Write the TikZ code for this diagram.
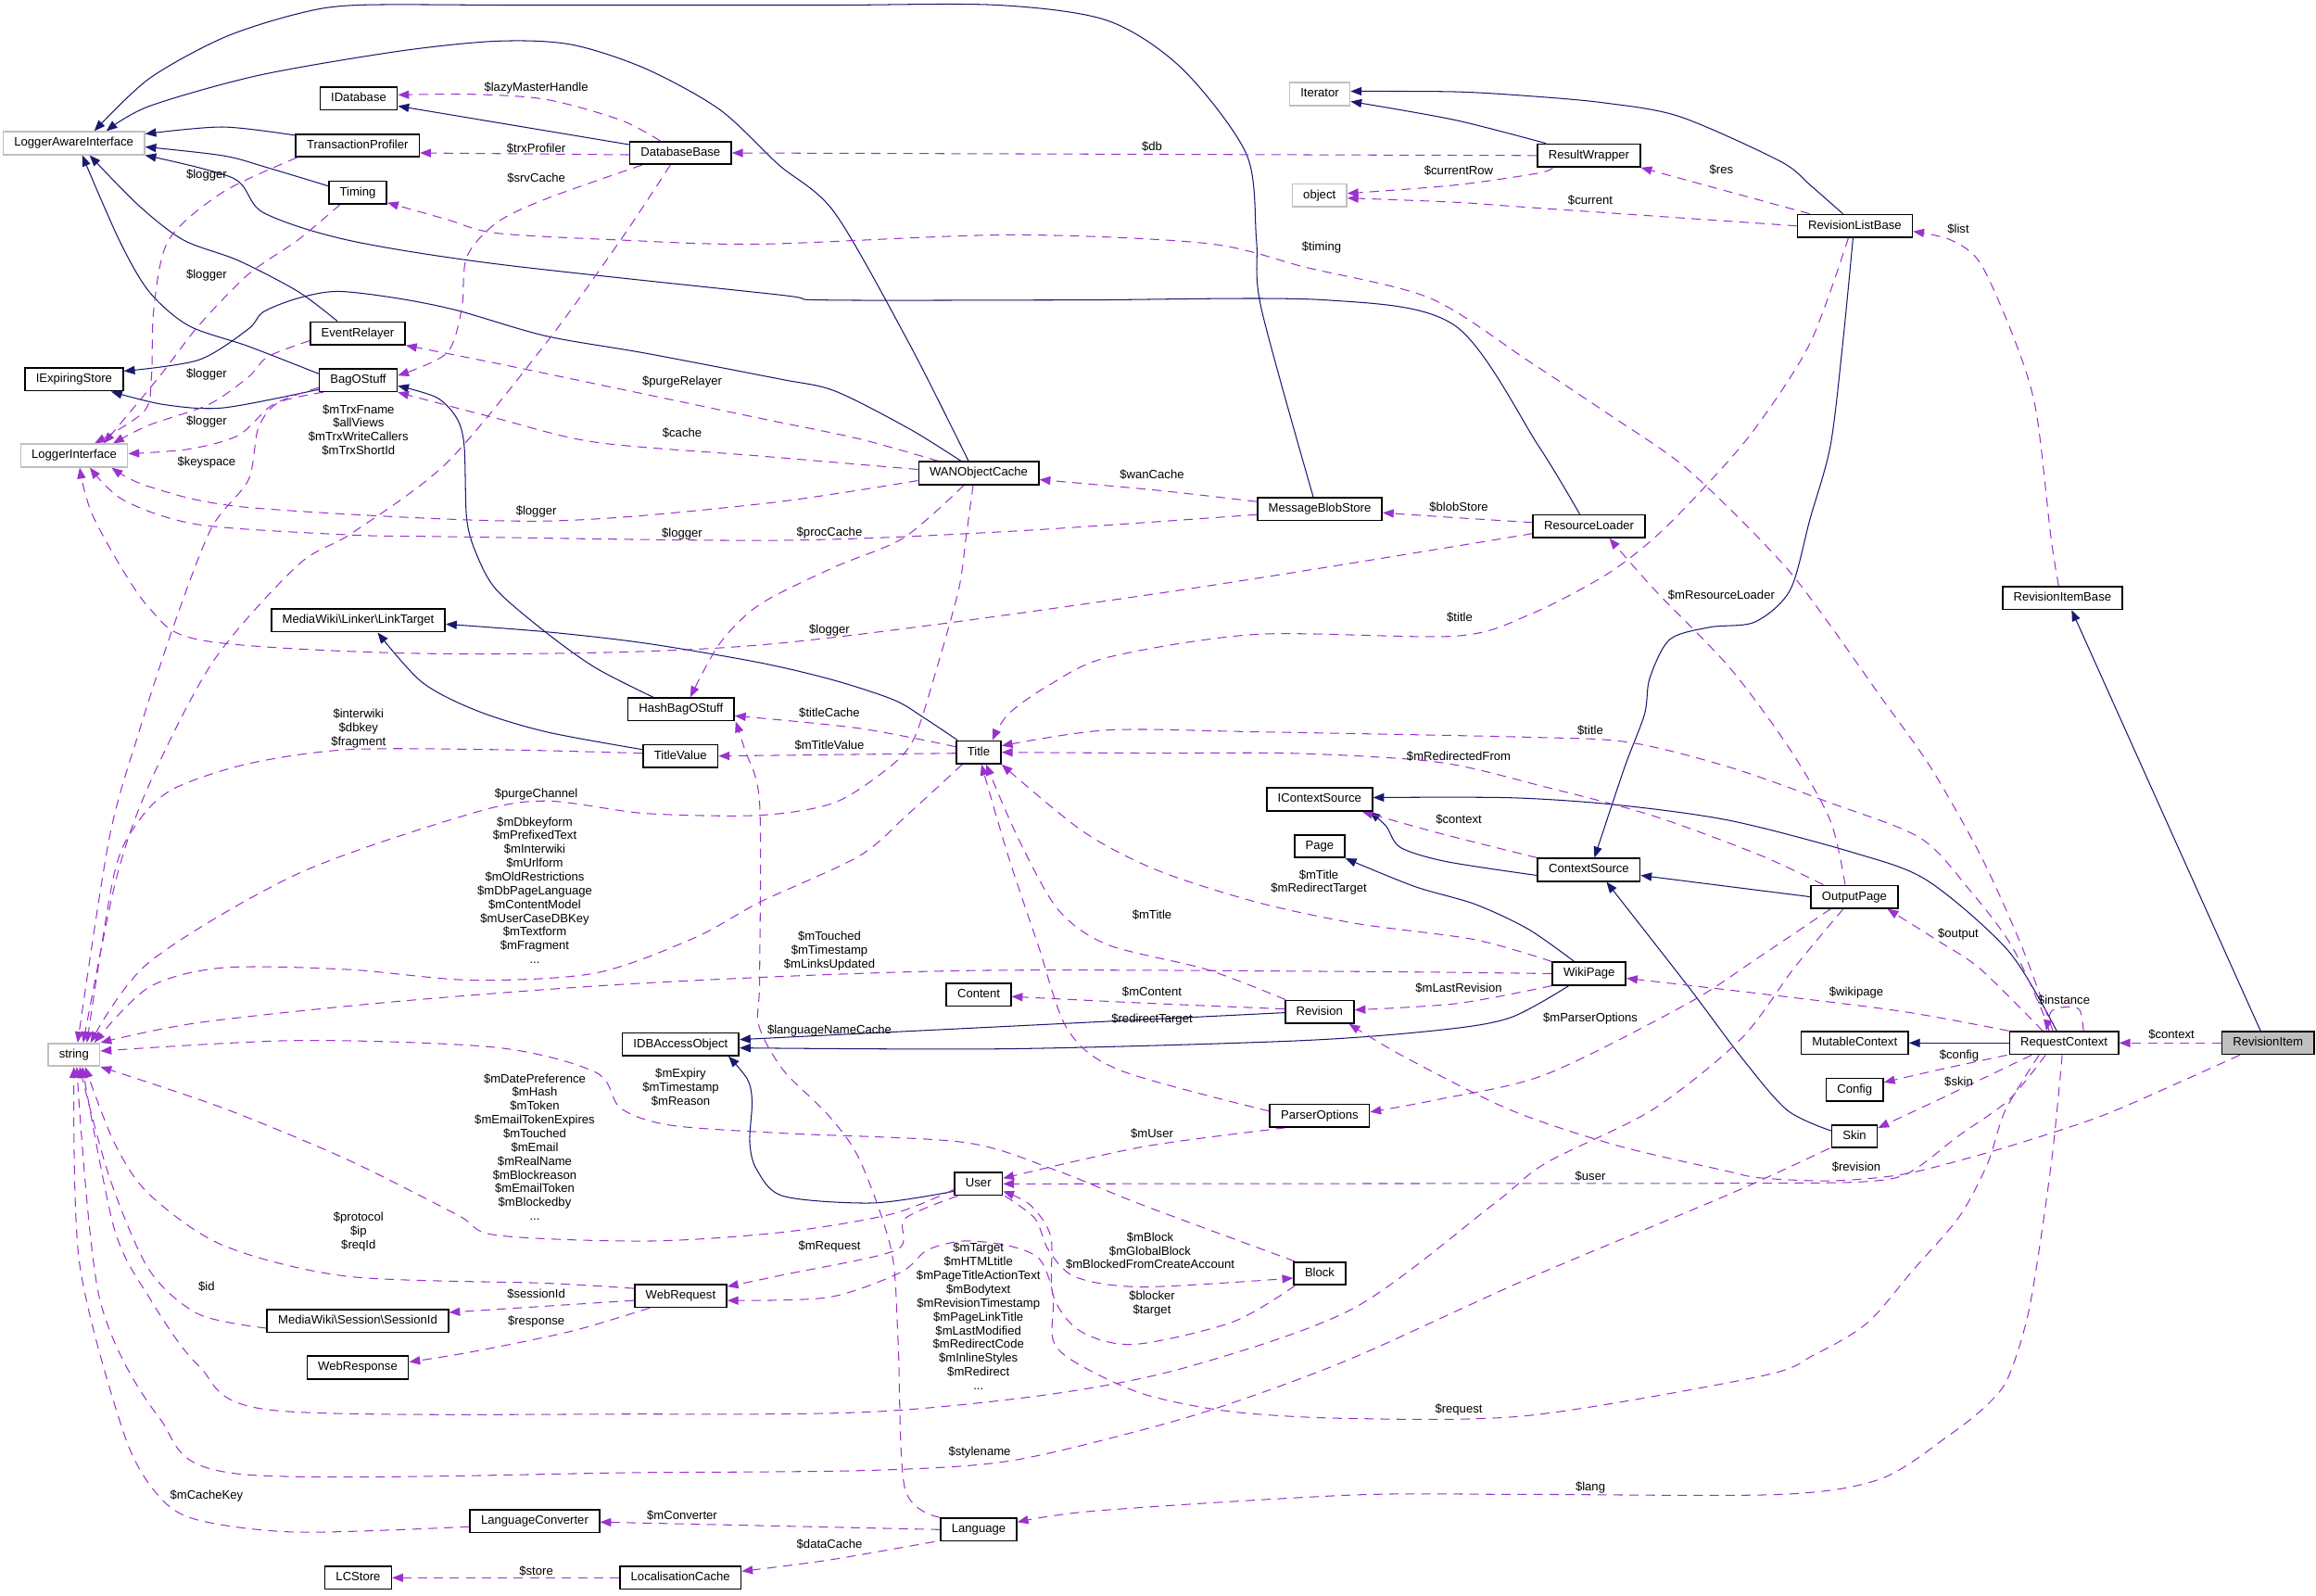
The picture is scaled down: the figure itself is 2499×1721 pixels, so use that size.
\documentclass[tikz,border=0pt]{standalone}
\usepackage{fontspec}
\setmainfont{Liberation Sans}
\usetikzlibrary{arrows.meta,positioning,calc}
\definecolor{doxNavy}{RGB}{25,25,112}
\definecolor{doxPurple}{RGB}{154,50,205}
\definecolor{extGray}{RGB}{191,191,191}
\pgfdeclarelayer{edges}
\pgfsetlayers{edges,main}

\begin{document}
\begin{tikzpicture}[
  x=0.022cm,y=-0.022cm,
  cls/.style={draw=black,line width=1pt,fill=white,minimum height=0.54cm,inner xsep=7.4pt,inner ysep=0pt,text height=6pt,text depth=1.7pt,font=\fontsize{8.2}{9.3}\selectfont},
  extcls/.style={cls,draw=extGray},
  curcls/.style={cls,fill=extGray},
  lbl/.style={align=center,inner sep=0pt,font=\fontsize{8.2}{9.3}\selectfont},
  inherit/.style={draw=doxNavy,line width=0.65pt,-{Triangle[length=2.6mm,width=2mm]}},
  member/.style={draw=doxPurple,line width=0.65pt,dash pattern=on 2.2mm off 1.6mm,-{Triangle[length=2.6mm,width=2mm]}}
]
  \useasboundingbox (0,0) rectangle (2499,1721);

  % classes
  \node[extcls] (lai) at (79.7,154.5) {LoggerAwareInterface};
  \node[cls] (idb) at (387,106.4) {IDatabase};
  \node[cls] (trxprof) at (385.8,157) {TransactionProfiler};
  \node[cls] (dbbase) at (734.3,165) {DatabaseBase};
  \node[cls] (timing) at (386,207.6) {Timing};
  \node[cls] (relayer) at (386,359.6) {EventRelayer};
  \node[cls] (iexpire) at (79.9,409.4) {IExpiringStore};
  \node[cls] (bag) at (386.5,410.2) {BagOStuff};
  \node[extcls] (loggeri) at (80,491.5) {LoggerInterface};
  \node[extcls] (iterator) at (1424,101.5) {Iterator};
  \node[extcls] (object) at (1423.7,210.7) {object};
  \node[cls] (wan) at (1056,510.5) {WANObjectCache};
  \node[cls] (blobstore) at (1424,549.2) {MessageBlobStore};
  \node[cls] (resultwrap) at (1714.4,167.8) {ResultWrapper};
  \node[cls] (revlist) at (2001.4,243.7) {RevisionListBase};
  \node[cls] (resloader) at (1714.5,567.7) {ResourceLoader};
  \node[cls] (linktarget) at (386.5,669.4) {MediaWiki\textbackslash Linker\textbackslash LinkTarget};
  \node[cls] (hashbag) at (734.8,765.3) {HashBagOStuff};
  \node[cls] (titlevalue) at (734.3,815.7) {TitleValue};
  \node[extcls] (string) at (79.8,1138) {string};
  \node[cls] (idbao) at (734.4,1126.6) {IDBAccessObject};
  \node[cls] (title) at (1056,811.7) {Title};
  \node[cls] (icontext) at (1423.8,862.5) {IContextSource};
  \node[cls] (page) at (1423.8,913) {Page};
  \node[cls] (content) at (1056,1073.2) {Content};
  \node[cls] (revision) at (1423.8,1091.6) {Revision};
  \node[cls] (revitembase) at (2225.3,645.2) {RevisionItemBase};
  \node[cls] (contextsrc) at (1714.4,938.5) {ContextSource};
  \node[cls] (outputpage) at (2000.9,967.6) {OutputPage};
  \node[cls] (wikipage) at (1714.7,1050.5) {WikiPage};
  \node[cls] (mutable) at (2001.3,1125.3) {MutableContext};
  \node[cls,right=2.37cm of mutable] (reqctx) {RequestContext};
  \node[curcls,right=2.42cm of reqctx] (revitem) {RevisionItem};
  \node[cls] (config) at (2001.2,1175.8) {Config};
  \node[cls] (skin) at (2001,1226) {Skin};
  \node[cls] (webrequest) at (734.4,1398.1) {WebRequest};
  \node[cls] (sessionid) at (386,1425) {MediaWiki\textbackslash Session\textbackslash SessionId};
  \node[cls] (webresponse) at (386,1475.5) {WebResponse};
  \node[cls] (langconv) at (577,1641.2) {LanguageConverter};
  \node[cls] (lcstore) at (386.5,1702.3) {LCStore};
  \node[cls] (l10ncache) at (734.2,1702.3) {LocalisationCache};
  \node[cls] (parseropts) at (1423.9,1203.8) {ParserOptions};
  \node[cls] (user) at (1055.8,1277.3) {User};
  \node[cls] (block) at (1424,1374) {Block};
  \node[cls] (language) at (1056,1650.3) {Language};

  % member names
  \node[lbl] (lLazy) at (578.6,94.7) {\$lazyMasterHandle};
  \node[lbl] (lTrxProf) at (578.6,159.8) {\$trxProfiler};
  \node[lbl] (lSrvCache) at (578.6,192.3) {\$srvCache};
  \node[lbl] (lLogTrx) at (222.9,189) {\$logger};
  \node[lbl] (lLogTiming) at (222.9,297) {\$logger};
  \node[lbl] (lLogRelayer) at (222.9,404) {\$logger};
  \node[lbl] (lLogBag) at (222.9,455) {\$logger};
  \node[lbl] (lTrxFname) at (386.8,464) {\$mTrxFname\\\$allViews\\\$mTrxWriteCallers\\\$mTrxShortId};
  \node[lbl] (lKeyspace) at (222.9,498.6) {\$keyspace};
  \node[lbl] (lPurgeRelayer) at (736,411.7) {\$purgeRelayer};
  \node[lbl] (lCache) at (736,467) {\$cache};
  \node[lbl] (lLogWan) at (578.6,552) {\$logger};
  \node[lbl] (lLogBlob) at (736,575.5) {\$logger};
  \node[lbl] (lDb) at (1243,158.3) {\$db};
  \node[lbl] (lCurrentRow) at (1574,184) {\$currentRow};
  \node[lbl] (lTiming) at (1426,267) {\$timing};
  \node[lbl] (lWanCache) at (1243,512) {\$wanCache};
  \node[lbl] (lBlobStore) at (1574,547.5) {\$blobStore};
  \node[lbl] (lProcCache) at (895,575) {\$procCache};
  \node[lbl] (lRes) at (1857.4,182.7) {\$res};
  \node[lbl] (lCurrent) at (1716,216.4) {\$current};
  \node[lbl] (lList) at (2113,246.7) {\$list};
  \node[lbl] (lInterwiki) at (386.8,786) {\$interwiki\\\$dbkey\\\$fragment};
  \node[lbl] (lPurgeChannel) at (578.6,856.6) {\$purgeChannel};
  \node[lbl] (lDbkeyform) at (577,960.5) {\$mDbkeyform\\\$mPrefixedText\\\$mInterwiki\\\$mUrlform\\\$mOldRestrictions\\\$mDbPageLanguage\\\$mContentModel\\\$mUserCaseDBKey\\\$mTextform\\\$mFragment\\...};
  \node[lbl] (lLogLoader) at (895,679.8) {\$logger};
  \node[lbl] (lTitleList) at (1575,666.4) {\$title};
  \node[lbl] (lTitleCache) at (895,768.6) {\$titleCache};
  \node[lbl] (lTitleValue) at (895,804) {\$mTitleValue};
  \node[lbl] (lRedirectedFrom) at (1574,816.4) {\$mRedirectedFrom};
  \node[lbl] (lContextSrc) at (1574,884.5) {\$context};
  \node[lbl] (lTitleWiki) at (1423,952) {\$mTitle\\\$mRedirectTarget};
  \node[lbl] (lTitleRev) at (1243,987.5) {\$mTitle};
  \node[lbl] (lTouched) at (895,1026) {\$mTouched\\\$mTimestamp\\\$mLinksUpdated};
  \node[lbl] (lContent) at (1243,1070) {\$mContent};
  \node[lbl] (lLastRev) at (1574,1066) {\$mLastRevision};
  \node[lbl] (lRedirTarget) at (1243,1099.6) {\$redirectTarget};
  \node[lbl] (lLangNameCache) at (895,1111.5) {\$languageNameCache};
  \node[lbl] (lResLoader) at (1857.4,642.3) {\$mResourceLoader};
  \node[lbl] (lTitleCtx) at (1716,788.5) {\$title};
  \node[lbl] (lOutput) at (2113,1007.8) {\$output};
  \node[lbl] (lWikipage) at (2003,1071) {\$wikipage};
  \node[lbl] (lParserOpts) at (1716,1098.8) {\$mParserOptions};
  \node[lbl] (lInstance) at (2227,1079) {\$instance};
  \node[lbl] (lContextItem) at (2343,1116) {\$context};
  \node[lbl] (lConfig) at (2114,1138.6) {\$config};
  \node[lbl] (lSkin) at (2113.5,1167) {\$skin};
  \node[lbl] (lDatePref) at (577,1237.5) {\$mDatePreference\\\$mHash\\\$mToken\\\$mEmailTokenExpires\\\$mTouched\\\$mEmail\\\$mRealName\\\$mBlockreason\\\$mEmailToken\\\$mBlockedby\\...};
  \node[lbl] (lExpiry) at (734.5,1173) {\$mExpiry\\\$mTimestamp\\\$mReason};
  \node[lbl] (lProtocol) at (386.8,1328.7) {\$protocol\\\$ip\\\$reqId};
  \node[lbl] (lId) at (222.9,1388) {\$id};
  \node[lbl] (lSessionId) at (578.6,1396.4) {\$sessionId};
  \node[lbl] (lResponse) at (578.6,1426.4) {\$response};
  \node[lbl] (lCacheKey) at (222.9,1614.2) {\$mCacheKey};
  \node[lbl] (lConverter) at (736,1634.6) {\$mConverter};
  \node[lbl] (lStore) at (578.6,1694.6) {\$store};
  \node[lbl] (lUserPo) at (1243,1223.4) {\$mUser};
  \node[lbl] (lRequestUser) at (895,1344.5) {\$mRequest};
  \node[lbl] (lTarget) at (1055.7,1420.3) {\$mTarget\\\$mHTMLtitle\\\$mPageTitleActionText\\\$mBodytext\\\$mRevisionTimestamp\\\$mPageLinkTitle\\\$mLastModified\\\$mRedirectCode\\\$mInlineStyles\\\$mRedirect\\...};
  \node[lbl] (lBlock) at (1241,1349.7) {\$mBlock\\\$mGlobalBlock\\\$mBlockedFromCreateAccount};
  \node[lbl] (lBlocker) at (1243,1406.7) {\$blocker\\\$target};
  \node[lbl] (lRequest) at (1574,1520.5) {\$request};
  \node[lbl] (lStylename) at (1057,1566.5) {\$stylename};
  \node[lbl] (lDataCache) at (895,1666) {\$dataCache};
  \node[lbl] (lRevision) at (2003,1258.6) {\$revision};
  \node[lbl] (lUser) at (1716,1268.6) {\$user};
  \node[lbl] (lLang) at (1716,1604.6) {\$lang};

  \begin{pgfonlayer}{edges}
  % inheritance
  \draw[inherit] plot[smooth] coordinates {($(trxprof.west)+(0,-11)$) (240,137) ($(lai.east)+(0,-10)$)};
  \draw[inherit] plot[smooth] coordinates {($(timing.west)+(0,-7)$) (289,181) (241,168) ($(lai.east)+(0,4)$)};
  \draw[inherit] plot[smooth] coordinates {($(resloader.north)+(-10,0)$) (1660,481) (1570,351.4) (1430.7,323.7) (1160,323.7) (889.6,323.7) (840,318) (535.7,284.8) (375,259) (284,229.3) (251.8,192.3) (lai.south east)};
  \draw[inherit] plot[smooth] coordinates {($(relayer.north)+(-22,0)$) (321.4,314.4) (257,281) (198,259) (150,222) ($(lai.south)+(17,0)$)};
  \draw[inherit] plot[smooth] coordinates {($(bag.west)+(0,-7)$) (267.9,373.6) (203.6,351.4) (160.7,314.4) (128.6,259) ($(lai.south)+(9,0)$)};
  \draw[inherit] plot[smooth] coordinates {($(wan.north)+(-11,0)$) (980.7,370) (900.4,229.3) (840,177.6) (776.8,118.4) (696.4,74) (616,48) (535.7,44.4) (428.6,55.5) (278.6,81.4) (160.7,114.7) ($(lai.north)+(35,0)$)};
  \draw[inherit] plot[smooth] coordinates {($(blobstore.north)+(-7,0)$) (1361,333) (1355.7,259) (1345,166.5) (1275.4,74) (1195,22.2) (1077.1,5.5) (900,5.5) (700,5.5) (550,5.5) (385.7,5.5) (321.4,14.8) (241,40.7) (160.7,85) ($(lai.north)+(22,0)$)};
  \draw[inherit] ($(dbbase.west)+(0,-9)$) -- ($(idb.east)+(0,8)$);
  \draw[inherit] plot[smooth] coordinates {($(bag.west)+(0,10)$) (241,440) (176.8,436.5) ($(iexpire.south)+(40,0)$)};
  \draw[inherit] plot[smooth] coordinates {($(wan.north)+(-19,0)$) (980.7,462.4) (900.4,421.7) (840,408.7) (696,381) (589,362.5) (492.9,334.8) (428.6,321.8) (364.3,314.4) (321.4,321.8) (284,336.6) (267.9,355) (214.3,388.4) ($(iexpire.east)+(0,-9)$)};
  \draw[inherit] plot[smooth] coordinates {($(hashbag.north)+(-30,0)$) (642.9,720.7) (589.3,682.5) (535.7,636.5) (514.3,598.3) (503.6,560) (500.9,481) (492.9,451.3) (471.4,429) ($(bag.east)+(0,6)$)};
  \draw[inherit] plot[smooth] coordinates {($(resultwrap.north west)+(10,0)$) (1570,129.5) ($(iterator.east)+(0,8)$)};
  \draw[inherit] plot[smooth] coordinates {($(revlist.north)+(-13,0)$) (1953.2,199.7) (1920.7,173.9) (1812.5,125.8) (1731.2,111) (1650,103.6) (1570,99) ($(iterator.east)+(0,-3)$)};
  \draw[inherit] plot[smooth] coordinates {($(revlist.south)+(-2,0)$) (1988.4,370) (1975,481) (1953,560) (1931.6,636.5) (1893.7,671) (1845,676.7) (1801.6,690) (1780,732) (1774.5,770.5) (1752.9,828) ($(contextsrc.north)+(6,0)$)};
  \draw[inherit] plot[smooth] coordinates {($(title.north west)+(2,0)$) (996.8,774.3) (964.6,755.2) (900.4,734.1) (820,715) (696.4,694) (589.3,681.7) ($(linktarget.east)+(0,4)$)};
  \draw[inherit] plot[smooth] coordinates {($(titlevalue.west)+(0,-7)$) (589.3,789.6) (514.3,766.7) (455.3,736) ($(linktarget.south)+(21,0)$)};
  \draw[inherit] plot[smooth] coordinates {($(contextsrc.west)+(0,6)$) (1560.7,929.6) (1511,914.3) (1495.7,891.4) ($(icontext.south east)+(-4,0)$)};
  \draw[inherit] plot[smooth] coordinates {($(reqctx.north)+(-8,0)$) (2167.4,1026.4) (2079.5,950) (2000,920) (1866.6,885.3) (1744.4,868.4) (1629.6,860.7) ($(icontext.east)+(0,-2)$)};
  \draw[inherit] (outputpage.west) -- ($(contextsrc.east)+(0,6)$);
  \draw[inherit] plot[smooth] coordinates {($(skin.west)+(0,-6)$) (1928,1197.5) (1878.4,1140) (1821,1063.6) ($(contextsrc.south)+(19,0)$)};
  \draw[inherit] plot[smooth] coordinates {($(wikipage.north)+(-16,0)$) (1648.7,1002.3) (1591.3,975.5) (1526.3,956.4) (page.south east)};
  \draw[inherit] ($(revision.west)+(0,1)$) -- ($(idbao.east)+(0,-5)$);
  \draw[inherit] plot[smooth] coordinates {($(wikipage.south)+(-22,0)$) (1629.6,1098) (1553,1111.4) (1400,1122.9) (1087.8,1131.6) ($(idbao.east)+(0,4)$)};
  \draw[inherit] plot[smooth] coordinates {($(user.west)+(0,8)$) (942.4,1297.9) (845.4,1290.6) (816.3,1261.5) (809,1232.4) (811.5,1188.8) (806.6,1164.6) ($(idbao.south east)+(-12,0)$)};
  \draw[inherit] (reqctx.west) -- (mutable.east);
  \draw[inherit] ($(revitem.north)+(-8,0)$) -- ($(revitembase.south)+(10,0)$);

  % members
  \draw[member] plot[smooth] coordinates {($(dbbase.north)+(-22,0)$) (669.6,129.5) (589.3,107.3) (509,101.7) ($(idb.east)+(0,-4)$)};
  \draw[member] ($(dbbase.west)+(0,2)$) -- ($(trxprof.east)+(0,8)$);
  \draw[member] plot[smooth] coordinates {($(trxprof.south west)+(2,0)$) (241,207) (182,259) (166,333) (163.4,407) (155.4,444) ($(loggeri.north)+(22,0)$)};
  \draw[member] plot[smooth] coordinates {($(timing.south)+(-19,0)$) (321.4,259) (267.9,296) (214.3,351.4) (171.4,407) ($(loggeri.north)+(32,0)$)};
  \draw[member] plot[smooth] coordinates {($(relayer.west)+(0,8)$) (289.3,384.7) (267.9,406.9) (225,436.5) (160.7,458.7) ($(loggeri.north)+(42,0)$)};
  \draw[member] plot[smooth] coordinates {($(bag.west)+(0,8)$) (294.6,436.5) (257,469.8) (203.6,484.6) ($(loggeri.east)+(0,-2)$)};
  \draw[member] plot[smooth] coordinates {($(wan.west)+(0,8)$) (820,543.8) (578.6,562.3) (267.9,547.5) (160.7,525) ($(loggeri.south east)+(-18,0)$)};
  \draw[member] plot[smooth] coordinates {($(blobstore.west)+(0,6)$) (1087.9,573.4) (840,583) (482,579) (375,577) (214.3,566) (134,540) ($(loggeri.south)+(17,0)$)};
  \draw[member] plot[smooth] coordinates {($(resloader.west)+(0,8)$) (1248.6,640.4) (820,695.9) (482,705.4) (225,692) (160.7,655.7) (101.8,560) ($(loggeri.south)+(6,0)$)};
  \draw[member] plot[smooth] coordinates {($(dbbase.south west)+(14,0)$) (589.3,214.5) (535.7,240.4) (503.6,277.4) (498.2,333) (482,381) ($(bag.east)+(0,-5)$)};
  \draw[member] plot[smooth] coordinates {($(dbbase.south)+(-11,0)$) (669.6,259) (589.3,370) (482,499.4) (380,575) (321.4,609.8) (230.4,713) (160.7,847) (125,950) ($(string.north)+(10,0)$)};
  \draw[member] plot[smooth] coordinates {($(bag.south west)+(5,0)$) (300,434.6) (278.6,462.4) (267.9,518) (228,570) (187.5,674.8) (150,789.6) (117.9,904.4) ($(string.north)+(4,0)$)};
  \draw[member] plot[smooth] coordinates {($(wan.north west)+(22,0)$) (927,473.5) (820,451.3) (696.4,425.4) (535.7,392) (relayer.south east)};
  \draw[member] plot[smooth] coordinates {($(wan.west)+(0,-4)$) (820,492) (642.9,477.2) (535.7,451.3) (bag.south east)};
  \draw[member] plot[smooth] coordinates {($(wan.south)+(-16,0)$) (975.4,580) (900,612) (820,652) (776.8,694) ($(hashbag.north)+(10,0)$)};
  \draw[member] plot[smooth] coordinates {($(wan.south)+(-6,0)$) (1042.3,580) (1034.3,636.5) (1007.5,732.2) (986,797.3) (959.3,828) (900.4,866) (820,879.6) (696.4,877.6) (589.3,864.2) (509,877.6) (321.4,942.7) (160.7,1038.4) ($(string.north)+(18,0)$)};
  \draw[member] plot[smooth] coordinates {($(blobstore.west)+(0,-8)$) (1248.6,529) ($(wan.east)+(0,7)$)};
  \draw[member] plot[smooth] coordinates {($(resloader.west)+(0,-4)$) (1570,558.5) ($(blobstore.east)+(0,4)$)};
  \draw[member] (resultwrap.west) -- (dbbase.east);
  \draw[member] plot[smooth] coordinates {($(resultwrap.south west)+(17,0)$) (1660,186.8) (1570,199.7) ($(object.east)+(0,-2)$)};
  \draw[member] plot[smooth] coordinates {(revlist.west) (1650,223.8) (1570,218.2) ($(object.east)+(0,3)$)};
  \draw[member] ($(revlist.north west)+(14,0)$) -- (resultwrap.south east);
  \draw[member] plot[smooth] coordinates {($(revitembase.north)+(-4,0)$) (2213,580) (2197,443.9) (2175,370) (2137.3,284.8) (2105,259) ($(revlist.east)+(0,6)$)};
  \draw[member] plot[smooth] coordinates {($(revlist.south)+(-7,0)$) (1953.2,370) (1893.7,462.4) (1839.5,525.3) (1785.4,580) (1731.2,621.2) (1650,663.3) (1570,686.3) (1355.7,684.4) (1195,709.3) (1130.7,740) (1087.9,770.5) ($(title.north east)+(-10,0)$)};
  \draw[member] plot[smooth] coordinates {($(reqctx.north)+(-16,0)$) (2202.3,1088.1) (2169.8,1019.2) (2126.5,961.8) (2072.4,904.4) (1974.9,866.2) (1866.6,827.9) (1758.3,801) (1650,795.4) (1355.7,789.6) (1195,787.7) ($(title.east)+(0,-7)$)};
  \draw[member] plot[smooth] coordinates {($(reqctx.north)+(-12,0)$) (2180.7,1019.2) (2137.4,923.6) (2083.2,827.9) (2029,751.4) (1974.9,674.8) (1931.6,617.4) (1877.4,560) (1812.5,499.4) (1731.2,443.9) (1650,390) (1543.2,321.8) (1409.3,288.5) (1302,262.6) (1087.9,253.4) (820,263.4) (669.6,259) (535.7,251.5) (482,236.7) ($(timing.south east)+(0,-2)$)};
  \draw[member] plot[smooth] coordinates {($(outputpage.north)+(-10,0)$) (1974.9,885.3) (1931.6,808.8) (1866.6,720.7) (1785.4,636.5) ($(resloader.south)+(22,0)$)};
  \draw[member] plot[smooth] coordinates {($(outputpage.north west)+(14,0)$) (1897.5,922) (1782.7,879.9) (1667.9,849.2) (1553.1,822.5) (1400,812.9) (1248.6,812.6) (title.east)};
  \draw[member] plot[smooth] coordinates {(contextsrc.north west) (1553,899) ($(icontext.south east)+(-12,0)$)};
  \draw[member] plot[smooth] coordinates {(wikipage.north west) (1591.3,1013.8) (1462.9,996.3) (1355.7,973.3) (1248.6,938.9) (1168.2,896.8) (title.south east)};
  \draw[member] plot[smooth] coordinates {($(revision.north west)+(1,0)$) (1302.1,1046) (1195,1019.2) (1141.4,981) (1098.6,904.4) ($(title.south)+(8,0)$)};
  \draw[member] plot[smooth] coordinates {($(parseropts.west)+(0,-5)$) (1208.9,1154.9) (1152.1,1111) (1120,1019.2) (1087.9,923.6) ($(title.south)+(3,0)$)};
  \draw[member] plot[smooth] coordinates {($(title.west)+(0,-6)$) (927.1,785.8) ($(hashbag.east)+(0,7)$)};
  \draw[member] ($(title.west)+(0,1)$) -- (titlevalue.east);
  \draw[member] plot[smooth] coordinates {($(title.south west)+(7,0)$) (980.7,877.6) (927.1,923.6) (820,973.3) (750,1011.6) (642.9,1049.8) (509,1057.5) (375,1046) (241,1044.1) (160.7,1065.2) ($(string.north)+(22,0)$)};
  \draw[member] plot[smooth] coordinates {($(titlevalue.west)+(0,-3)$) (535.7,808.8) (375,808.8) (267.9,824) (187.5,850.9) (150,885.3) (123.2,942.7) ($(string.north)+(14,0)$)};
  \draw[member] plot[smooth] coordinates {(wikipage.west) (1460,1048.2) (1039.3,1047.3) (700,1060.4) (428.6,1080.5) (214.3,1103.4) (string.north east)};
  \draw[member] plot[smooth] coordinates {($(user.west)+(0,6)$) (961.7,1310) (845.4,1329.4) (700,1339) (535.7,1332.7) (492.9,1310.4) (375,1251.2) (241,1195.6) (string.south east)};
  \draw[member] plot[smooth] coordinates {($(block.north west)+(2,0)$) (1233.2,1300.3) (1136.2,1261.5) (1039.3,1232.4) (845.4,1222.7) (723.2,1214) (669.6,1195.6) (642.9,1157) (535.7,1130.2) (321.4,1122.6) ($(string.east)+(0,-4)$)};
  \draw[member] plot[smooth] coordinates {($(webrequest.west)+(0,-8)$) (589.3,1384.5) (375,1377.1) (241,1343.8) (160.7,1288.2) (123.2,1232.6) ($(string.south)+(12,0)$)};
  \draw[member] plot[smooth] coordinates {($(sessionid.west)+(0,8)$) (214.3,1417.9) (160.7,1369.7) (117.9,1269.7) ($(string.south)+(6,0)$)};
  \draw[member] plot[smooth] coordinates {($(outputpage.south)+(-12,0)$) (1935.8,1044.4) (1878.4,1121) (1782.7,1197.5) (1667.9,1254.9) (1610.5,1300) (1460,1411.8) (1281.6,1474.8) (1136.2,1503.9) (942.4,1523.2) (700,1525.7) (294.6,1521.6) (214.3,1473.5) (160.7,1399.4) (123.2,1325.3) ($(string.south)+(9,0)$)};
  \draw[member] plot[smooth] coordinates {($(skin.south west)+(-2,0)$) (1866.6,1288.2) (1650,1379) (1460,1465) (1330.1,1513.5) (1233.2,1542.6) (1087.8,1576.5) (942.4,1586.3) (700,1588.7) (257,1590.2) (171.4,1529) (107.1,1399.4) ($(string.south)+(3,0)$)};
  \draw[member] plot[smooth] coordinates {($(langconv.west)+(0,6)$) (321.4,1653.1) (214.3,1640.2) (171.4,1614.2) (134,1547.6) (85.7,1362.3) (string.south)};
  \draw[member] ($(webrequest.west)+(0,5)$) -- ($(sessionid.east)+(0,-9)$);
  \draw[member] plot[smooth] coordinates {($(webrequest.south west)+(17,0)$) (616,1436.4) (509,1458.6) ($(webresponse.east)+(0,-6)$)};
  \draw[member] (language.west) -- ($(langconv.east)+(0,1)$);
  \draw[member] plot[smooth] coordinates {($(language.south west)+(-6,0)$) (893.9,1683.2) ($(l10ncache.east)+(0,-7)$)};
  \draw[member] (l10ncache.west) -- (lcstore.east);
  \draw[member] plot[smooth] coordinates {(language.north west) (976.3,1605.6) (969,1445.7) (961.7,1348.8) (927.8,1251.8) (893.9,1203.4) (845.4,1154.9) (818.8,1106.4) (819.6,1057.5) (819.6,866.2) (803.6,808.8) ($(hashbag.south east)+(1,0)$)};
  \draw[member] plot[smooth] coordinates {($(revision.west)+(0,-3)$) (1233.2,1082.2) ($(content.east)+(0,2)$)};
  \draw[member] plot[smooth] coordinates {(wikipage.south west) (1572.2,1082.7) ($(revision.east)+(0,-2)$)};
  \draw[member] plot[smooth] coordinates {($(revitem.south west)+(20,0)$) (2282,1198.3) (2205.6,1225) (2129.2,1248) (2052.8,1267.1) (1976.4,1274) (1900,1270.9) (1859.2,1262.6) (1744.4,1235.8) (1629.6,1197.5) (1514.8,1140) ($(revision.south east)+(-6,0)$)};
  \draw[member] plot[smooth] coordinates {($(reqctx.south)+(-20,0)$) (2167.4,1186.8) (2113.9,1225) (2060.4,1265) (2014.6,1274.7) (1900,1276.6) (1460,1277) (user.east)};
  \draw[member] plot[smooth] coordinates {($(reqctx.south)+(-27,0)$) (2163.6,1198.3) (2144.5,1255.6) (2113.9,1312.9) (2064.3,1370.2) (2014.6,1427.5) (1957.3,1461.9) (1900,1484.8) (1650,1527.2) (1460,1530.5) (1330.1,1523.2) (1233.2,1503.9) (1160.5,1470) (1136.2,1445.7) (1136.2,1397.2) (1121.7,1358.5) (1087.8,1343.9) (1039.3,1339) (1000.5,1348.8) (971.4,1373) (893.9,1399.7) ($(webrequest.east)+(0,5)$)};
  \draw[member] plot[smooth] coordinates {($(reqctx.south)+(-2,0)$) (2213.3,1255.6) (2190.3,1408.4) (2167.4,1484.8) (2144.5,1515.4) (2102.5,1549) (2029,1595.7) (1920.7,1612.4) (1650,1612.4) (1460,1613) (1184.7,1629.9) ($(language.east)+(0,-8)$)};
  \draw[member] plot[smooth] coordinates {($(reqctx.north)+(-23,0)$) (2136.8,1045.5) (2091,1015) ($(outputpage.south east)+(-12,0)$)};
  \draw[member] plot[smooth] coordinates {(reqctx.north west) (2052.8,1091.3) (1900,1072.2) ($(wikipage.east)+(0,5)$)};
  \draw[member] plot[smooth] coordinates {($(reqctx.south west)+(-2,0)$) (2091,1154.4) ($(config.east)+(0,-8)$)};
  \draw[member] plot[smooth] coordinates {($(reqctx.south)+(-35,0)$) (2091,1186.8) ($(skin.east)+(0,-9)$)};
  \draw[member] plot[smooth] coordinates {($(reqctx.north)+(21,0)$) (2243.8,1089.4) (2228.5,1086.5) (2213.3,1091.3) ($(reqctx.north)+(-19,0)$)};
  \draw[member] (revitem.west) -- (reqctx.east);
  \draw[member] plot[smooth] coordinates {($(outputpage.south west)+(22,0)$) (1897.5,1033) (1821,1082.7) (1667.9,1159.2) (1553,1186) ($(parseropts.east)+(0,-4)$)};
  \draw[member] plot[smooth] coordinates {($(parseropts.south west)+(17,0)$) (1233.2,1237.3) ($(user.east)+(0,-6)$)};
  \draw[member] plot[smooth] coordinates {($(block.south west)+(2,0)$) (1330.1,1426.3) (1223.5,1450.5) (1165.3,1436) (1136.2,1397.2) (1133.8,1334.2) (1112,1300.3) ($(user.east)+(0,8)$)};
  \draw[member] plot[smooth] coordinates {($(user.south east)+(2,0)$) (1116.8,1314.8) (1131.4,1348.8) (1160.5,1377.8) (1233.2,1388.5) ($(block.west)+(0,5)$)};
  \draw[member] plot[smooth] coordinates {($(user.south west)+(4,0)$) (976.3,1314.8) (966.6,1348.8) (845.4,1375.4) ($(webrequest.east)+(0,-10)$)};
  \end{pgfonlayer}
\end{tikzpicture}
\end{document}
